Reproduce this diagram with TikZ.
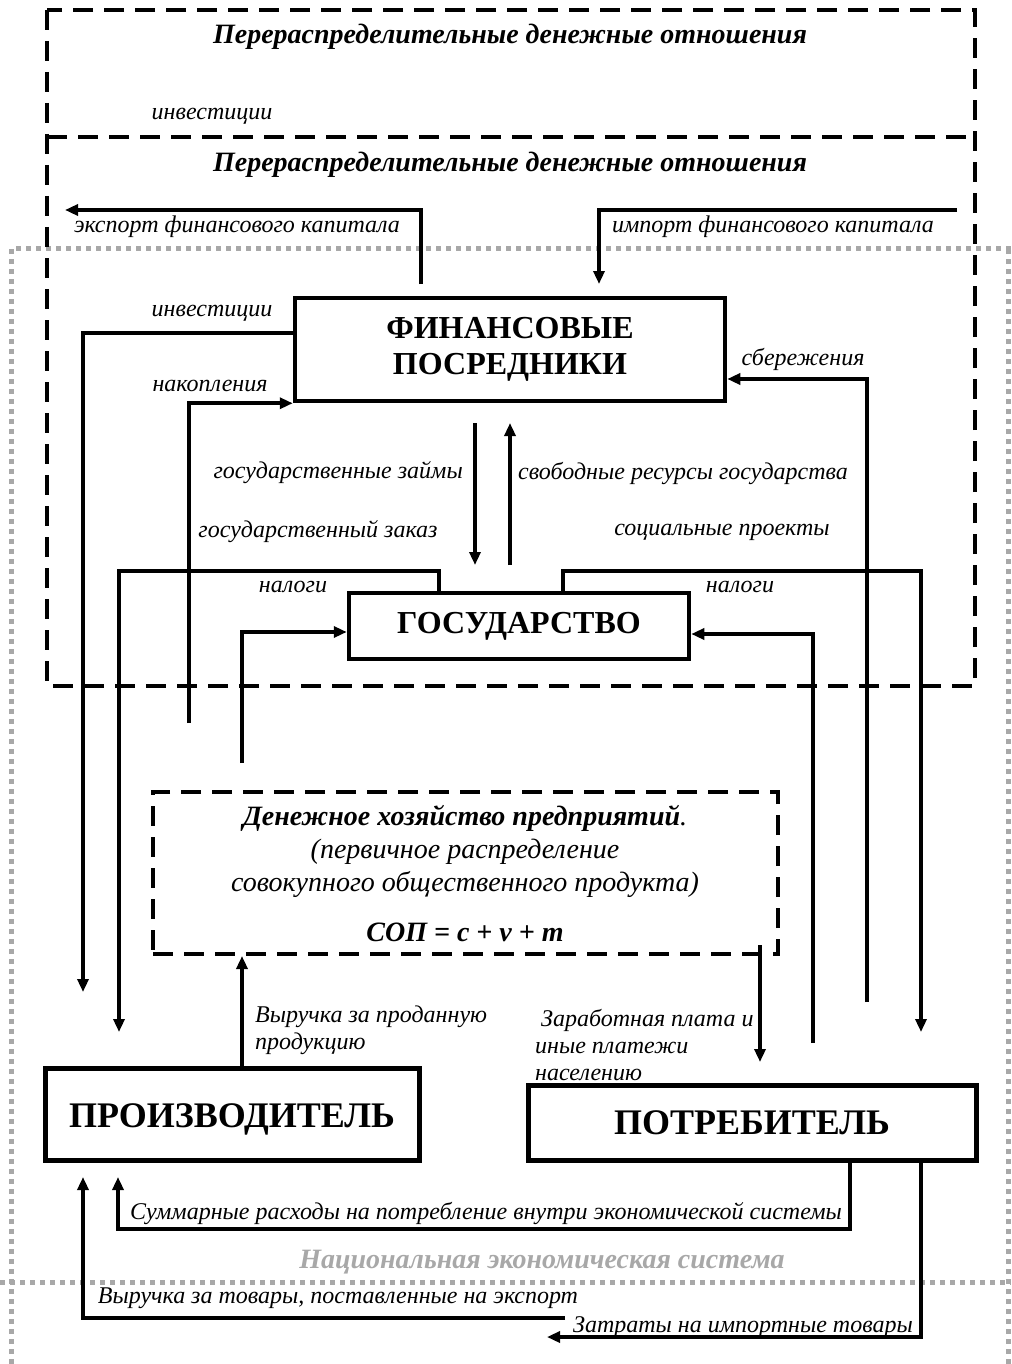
\documentclass[tikz,border=0pt]{standalone}
\usepackage{fontspec}
\setmainfont{Liberation Serif}
\usetikzlibrary{arrows.meta,calc}
\definecolor{natgray}{HTML}{A8A8A8}

\begin{document}
\begin{tikzpicture}[x=1pt,y=-1pt,
  box/.style={draw, line width=4.5pt, inner sep=0pt, align=center,
              font=\fontsize{32}{36}\selectfont\bfseries},
  bigbox/.style={box, line width=5pt, font=\fontsize{36}{42}\selectfont\bfseries},
  flow/.style={line width=3.6pt, -{Triangle[length=13pt,width=11pt]}},
  lbl/.style={inner sep=0pt, font=\fontsize{24}{27}\selectfont\itshape},
  title/.style={inner sep=0pt, font=\fontsize{28}{32}\selectfont\bfseries\itshape},
  dentext/.style={inner sep=0pt, font=\fontsize{28}{32}\selectfont\itshape},
  zone/.style={line width=4pt, dash pattern=on 20pt off 11pt},
  nation/.style={line width=5pt, draw=natgray, dash pattern=on 5pt off 5pt},
]
\useasboundingbox (0,0) rectangle (1011,1364);

% national economy border (grey dotted)
\draw[nation] (11,1364) -- (11,249) -- (1011,249);
\draw[nation] (1008,249) -- (1008,1364);
\draw[nation] (0,1282) -- (1011,1282);
\node[inner sep=0pt, text=natgray, font=\fontsize{28}{32}\selectfont\bfseries\itshape]
  (nat) at (542,1262) {Национальная экономическая система};

% redistribution zones (dashed)
\draw[zone] (47,10) rectangle (975,686);
\draw[zone] (47,137) -- (975,137);
\node[title] (t1) at (510,37) {Перераспределительные денежные отношения};
\node[title] (t2) at (510,165) {Перераспределительные денежные отношения};
\node[lbl] (l0) at (212,116) {инвестиции};

% main boxes
\node[box, minimum width=430pt, minimum height=103pt] (fp) at (510,349.5)
  {ФИНАНСОВЫЕ\\ПОСРЕДНИКИ};
\node[box, minimum width=340pt, minimum height=66pt] (gos) at (519,626) {ГОСУДАРСТВО};
\node[bigbox, minimum width=374pt, minimum height=92pt] (prod) at (232,1114)
  {\raisebox{-5pt}[\height][\depth]{ПРОИЗВОДИТЕЛЬ}};
\node[bigbox, minimum width=448pt, minimum height=75pt] (potr) at (752,1122.5) {ПОТРЕБИТЕЛЬ};
\node[zone, draw, minimum width=625pt, minimum height=162pt] (den) at (465.5,873) {};
\node[dentext] (denA) at (465,818) {\textbf{Денежное хозяйство предприятий}.};
\node[dentext] (denB) at (465,852) {(первичное распределение};
\node[dentext] (denC) at (465,884) {совокупного общественного продукта)};
\node[dentext, font=\fontsize{28}{32}\selectfont\bfseries\itshape] (denD) at (465,932)
  {СОП = c + v + m};

% free ends of connectors
\coordinate (expS) at (421,284);
\coordinate (expE) at (65,210);
\coordinate (impS) at (957,210);
\coordinate (impE) at (599,284);
\coordinate (invE) at (83,992);
\coordinate (nakS) at (189,723);
\coordinate (gzE) at (119,1032);
\coordinate (nalLS) at (242,763);
\coordinate (loanS) at (475,423);
\coordinate (loanE) at (475,565);
\coordinate (freeS) at (510,565);
\coordinate (freeE) at (510,423);
\coordinate (socE) at (921,1032);
\coordinate (nalRS) at (813,1043);
\coordinate (savS) at (867,1002);
\coordinate (zpS) at (760,945);
\coordinate (zpE) at (760,1062);
\coordinate (sumE) at (118,1177);
\coordinate (xrS) at (565,1318);
\coordinate (xrE) at (83,1177);
\coordinate (imgE) at (547,1337);

% connectors
\draw[flow] (expS) |- (expE);
\draw[flow] (impS) -| (impE);
\draw[flow] (fp.west |- 0,333) -| (invE);
\draw[flow] (nakS) |- (fp.south west);
\draw[flow] (gos.north -| 439,0) -- (439,571) -| (gzE);
\draw[flow] (nalLS) |- (gos.west |- 0,632);
\draw[flow] (loanS) -- (loanE);
\draw[flow] (freeS) -- (freeE);
\draw[flow] (gos.north -| 563,0) -- (563,571) -| (socE);
\draw[flow] (nalRS) |- (gos.east |- 0,634);
\draw[flow] (savS) |- (fp.east |- 0,379);
\draw[flow] (prod.north -| 242,0) -- (den.south -| 242,0);
\draw[flow] (zpS) -- (zpE);
\draw[flow] (potr.south -| 850,0) -- (850,1229) -| (sumE);
\draw[flow] (xrS) -| (xrE);
\draw[flow] (potr.south -| 921,0) |- (imgE);

% connector labels
\node[lbl] (lExp) at (237,227) {экспорт финансового капитала};
\node[lbl] (lImp) at (773,227) {импорт финансового капитала};
\node[lbl] (lInv) at (212,313) {инвестиции};
\node[lbl] (lNak) at (210,386) {накопления};
\node[lbl] (lSav) at (803,359) {сбережения};
\node[lbl, anchor=east] (lLoan) at (463,473) {государственные займы};
\node[lbl, anchor=west] (lFree) at (518,473) {свободные ресурсы государства};
\node[lbl] (lGz) at (318,532) {государственный заказ};
\node[lbl] (lSoc) at (722,532) {социальные проекты};
\node[lbl] (lNalL) at (293,587) {налоги};
\node[lbl] (lNalR) at (740,587) {налоги};
\node[lbl, anchor=west, align=left] (lVyr) at (255,1030) {Выручка за проданную\\продукцию};
\node[lbl, anchor=west, align=left] (lZp) at (535,1045) {\ Заработная плата и\\иные платежи\\населению};
\node[lbl] (lSum) at (486,1213) {Суммарные расходы на потребление внутри экономической системы};
\node[lbl] (lXr) at (338,1298) {Выручка за товары, поставленные на экспорт};
\node[lbl] (lImg) at (743,1327) {Затраты на импортные товары};
\end{tikzpicture}
\end{document}
